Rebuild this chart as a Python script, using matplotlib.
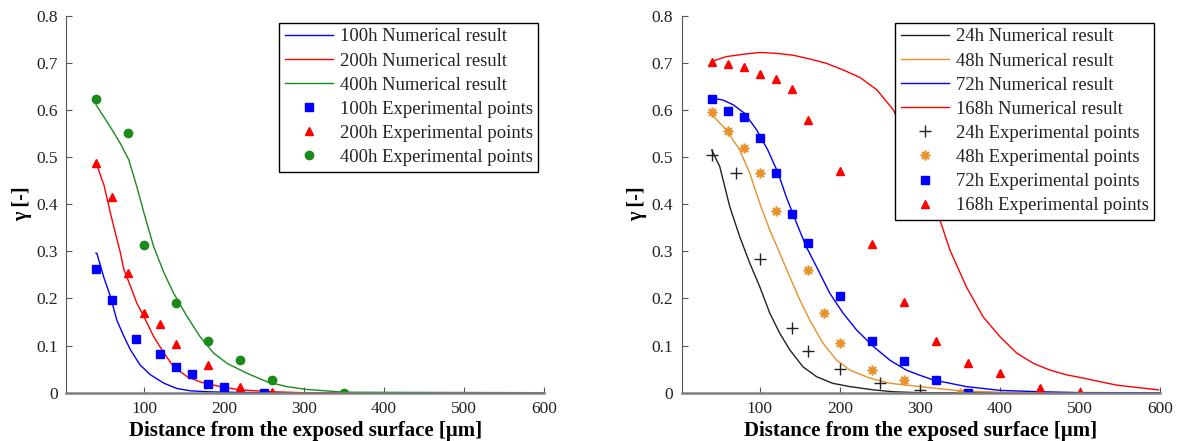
import matplotlib
matplotlib.use('Agg')
import matplotlib.pyplot as plt

plt.rcParams['font.family'] = ['Liberation Serif', 'DejaVu Serif']

# ---- left panel: numerical curves ----
num100_x = [40, 41, 49.5, 58, 66, 75, 83, 95, 108, 125, 141, 158, 180, 200, 250, 600]
num100_y = [0.296, 0.296, 0.246, 0.204, 0.154, 0.119, 0.091, 0.059, 0.038, 0.020, 0.009, 0.004, 0.002, 0.001, 0.0, 0.0]
num200_x = [40, 50, 58, 64, 70, 75, 81, 91, 100, 112, 125, 137, 154, 170, 195, 220, 260, 300, 600]
num200_y = [0.488, 0.44, 0.381, 0.34, 0.30, 0.26, 0.235, 0.190, 0.161, 0.119, 0.084, 0.055, 0.034, 0.023, 0.013, 0.006, 0.002, 0.0, 0.0]
num400_x = [40, 60, 70, 81, 91, 100, 112, 125, 137, 154, 170, 187, 204, 229, 254, 278, 303, 350, 600]
num400_y = [0.611, 0.558, 0.53, 0.494, 0.437, 0.381, 0.31, 0.254, 0.211, 0.161, 0.119, 0.084, 0.062, 0.041, 0.023, 0.013, 0.007, 0.001, 0.0]

# ---- left panel: experimental points ----
exp100_x = [40, 60, 90, 120, 140, 160, 180, 200, 250]
exp100_y = [0.262, 0.196, 0.115, 0.083, 0.054, 0.040, 0.019, 0.012, 0.0]
exp200_x = [40, 60, 80, 100, 120, 140, 180, 220, 260]
exp200_y = [0.487, 0.415, 0.253, 0.170, 0.146, 0.104, 0.059, 0.013, 0.002]
exp400_x = [40, 80, 100, 140, 180, 220, 260, 350]
exp400_y = [0.624, 0.550, 0.313, 0.190, 0.110, 0.070, 0.028, 0.0]

# ---- right panel: numerical curves ----
num24_x = [40, 50, 62.5, 75, 87.5, 100, 112.5, 125, 137.5, 154, 171, 191, 212.5, 242, 267, 300, 600]
num24_y = [0.515, 0.480, 0.395, 0.331, 0.275, 0.225, 0.169, 0.126, 0.091, 0.055, 0.034, 0.020, 0.013, 0.006, 0.002, 0.0, 0.0]
num48_x = [40, 44, 58, 75, 87.5, 100, 112.5, 125, 137.5, 150, 162.5, 179, 196, 212.5, 237.5, 262.5, 300, 350, 400, 600]
num48_y = [0.59, 0.583, 0.558, 0.515, 0.466, 0.402, 0.345, 0.296, 0.246, 0.197, 0.154, 0.105, 0.069, 0.048, 0.031, 0.020, 0.013, 0.004, 0.001, 0.0]
num72_x = [40, 54, 66.7, 81, 96, 110, 123, 133, 146, 158, 171, 187.5, 204, 221, 242, 262.5, 283, 300, 317, 358, 400, 450, 500, 600]
num72_y = [0.625, 0.621, 0.611, 0.593, 0.558, 0.515, 0.466, 0.416, 0.360, 0.310, 0.267, 0.211, 0.169, 0.133, 0.098, 0.069, 0.048, 0.037, 0.027, 0.013, 0.005, 0.002, 0.0, 0.0]
num168_x = [40, 58, 79, 100, 121, 142, 162.5, 183, 204, 225, 246, 267, 295, 325, 337.5, 358, 379, 400, 421, 442, 462.5, 483, 504, 546, 598]
num168_y = [0.703, 0.713, 0.718, 0.722, 0.72, 0.716, 0.708, 0.699, 0.685, 0.669, 0.643, 0.600, 0.49, 0.367, 0.303, 0.225, 0.161, 0.119, 0.084, 0.062, 0.048, 0.038, 0.031, 0.016, 0.006]

# ---- right panel: experimental points ----
exp24_x = [40, 70, 100, 140, 160, 200, 250, 300]
exp24_y = [0.505, 0.466, 0.284, 0.138, 0.089, 0.050, 0.020, 0.005]
exp48_x = [40, 60, 80, 100, 120, 160, 180, 200, 240, 280, 350]
exp48_y = [0.595, 0.556, 0.520, 0.466, 0.386, 0.260, 0.170, 0.106, 0.048, 0.027, 0.0]
exp72_x = [40, 60, 80, 100, 120, 140, 160, 200, 240, 280, 320, 360]
exp72_y = [0.623, 0.598, 0.584, 0.540, 0.467, 0.380, 0.318, 0.205, 0.110, 0.067, 0.026, 0.0]
exp168_x = [40, 60, 80, 100, 120, 140, 160, 200, 240, 280, 320, 360, 400, 450, 500]
exp168_y = [0.702, 0.697, 0.692, 0.676, 0.666, 0.645, 0.579, 0.471, 0.316, 0.193, 0.110, 0.064, 0.041, 0.010, 0.002]

x_ticks = [100, 200, 300, 400, 500, 600]
y_ticks = [0, 0.1, 0.2, 0.3, 0.4, 0.5, 0.6, 0.7, 0.8]
y_ticklabels = ['0', '0.1', '0.2', '0.3', '0.4', '0.5', '0.6', '0.7', '0.8']

BLUE = '#0000ff'
RED = '#ff0000'
GREEN = '#1a8a1a'
ORANGE = '#e8902a'
BLACK = '#222222'


def style_axes(ax):
    ax.set_xlim(2.5, 600)
    ax.set_ylim(0, 0.8)
    ax.set_xticks(x_ticks)
    ax.set_yticks(y_ticks)
    ax.set_yticklabels(y_ticklabels)
    for side in ['top', 'right']:
        ax.spines[side].set_visible(False)
    ax.spines['left'].set_color('#555555')
    ax.spines['bottom'].set_color('#808080')
    ax.spines['bottom'].set_linewidth(1.8)
    ax.tick_params(direction='in', length=4, width=0.8, color='#555555',
                   labelsize=12.5, labelcolor='#222222', pad=6)
    ax.set_xlabel('Distance from the exposed surface [\u03bcm]', fontsize=15,
                  fontweight='bold', labelpad=3)
    ax.set_ylabel('\u03b3 [-]', fontsize=14.5, fontweight='bold', labelpad=3)


def add_legend(ax):
    leg = ax.legend(loc='upper right', bbox_to_anchor=(0.988, 0.981), fontsize=13.4,
                    frameon=True, fancybox=False, framealpha=1, edgecolor='black',
                    handlelength=2.6, handletextpad=0.35, labelspacing=0.38,
                    borderpad=0.3, borderaxespad=0, numpoints=1)
    leg.get_frame().set_linewidth(1.0)
    for t in leg.get_texts():
        t.set_color('#222222')


fig = plt.figure(figsize=(11.79, 4.41), dpi=100)

# left panel
ax1 = fig.add_axes([0.056, 0.1095, 0.4055, 0.855])
ax1.plot(num100_x, num100_y, color=BLUE, lw=1.0, label='100h Numerical result')
ax1.plot(num200_x, num200_y, color=RED, lw=1.0, label='200h Numerical result')
ax1.plot(num400_x, num400_y, color=GREEN, lw=1.0, label='400h Numerical result')
ax1.plot(exp100_x, exp100_y, 's', color=BLUE, ms=5.5, label='100h Experimental points')
ax1.plot(exp200_x, exp200_y, '^', color=RED, ms=5.5, label='200h Experimental points')
ax1.plot(exp400_x, exp400_y, 'o', color=GREEN, ms=6, label='400h Experimental points')
style_axes(ax1)
add_legend(ax1)

# right panel
ax2 = fig.add_axes([0.5782, 0.1095, 0.4057, 0.855])
ax2.plot(num24_x, num24_y, color=BLACK, lw=1.0, label='24h Numerical result')
ax2.plot(num48_x, num48_y, color=ORANGE, lw=1.0, label='48h Numerical result')
ax2.plot(num72_x, num72_y, color=BLUE, lw=1.0, label='72h Numerical result')
ax2.plot(num168_x, num168_y, color=RED, lw=1.0, label='168h Numerical result')
ax2.plot(exp24_x, exp24_y, '+', color=BLACK, ms=9, mew=1.0, label='24h Experimental points')
ax2.plot(exp48_x, exp48_y, marker=(8, 2, 0), ls='none', color=ORANGE, ms=7, mew=1.2,
         label='48h Experimental points')
ax2.plot(exp72_x, exp72_y, 's', color=BLUE, ms=5.5, label='72h Experimental points')
ax2.plot(exp168_x, exp168_y, '^', color=RED, ms=5.5, label='168h Experimental points')
style_axes(ax2)
add_legend(ax2)

fig.savefig('out.png', dpi=100)
